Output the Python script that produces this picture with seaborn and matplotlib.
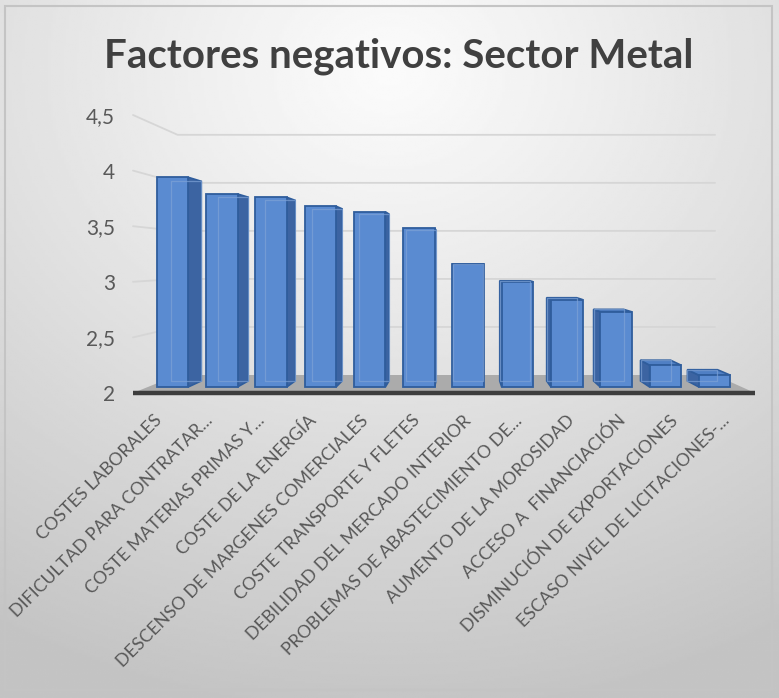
import numpy as np
import pandas as pd
import matplotlib
matplotlib.use("Agg")
import matplotlib.pyplot as plt
import matplotlib.transforms as mtransforms
from matplotlib.patches import Polygon, Rectangle
import seaborn as sns

# Data
categories = [
    "COSTES LABORALES",
    "DIFICULTAD PARA CONTRATAR...",
    "COSTE MATERIAS PRIMAS Y...",
    "COSTE DE LA ENERGÍA",
    "DESCENSO DE MARGENES COMERCIALES",
    "COSTE TRANSPORTE Y FLETES",
    "DEBILIDAD DEL MERCADO INTERIOR",
    "PROBLEMAS DE ABASTECIMIENTO DE...",
    "AUMENTO DE LA MOROSIDAD",
    "ACCESO A  FINANCIACIÓN",
    "DISMINUCIÓN DE EXPORTACIONES",
    "ESCASO NIVEL DE LICITACIONES-...",
]
values = [3.94, 3.79, 3.76, 3.68, 3.63, 3.48, 3.16, 3.00, 2.84, 2.73, 2.25, 2.16]
y_ticks = [2, 2.5, 3, 3.5, 4, 4.5]
y_labels = ["2", "2,5", "3", "3,5", "4", "4,5"]
title = "Factores negativos: Sector Metal"

sns.set_style("white")
plt.rcParams['font.family'] = ['Lato', 'DejaVu Sans']

W, H = 779, 698
fig = plt.figure(figsize=(W / 100, H / 100), dpi=100)

# background gradient + frame
bg = fig.add_axes([0, 0, 1, 1], zorder=-10)
yy, xx = np.mgrid[0:1:300j, 0:1:300j]
r = np.sqrt(((xx - 0.5) / 0.9) ** 2 + ((yy - 0.10) / 0.85) ** 2)
shade = np.clip(251 - 56 * (r / 1.1) ** 1.1, 196, 252)
bg.imshow(shade, cmap="gray", vmin=0, vmax=255, extent=[0, 1, 0, 1], origin="upper", aspect="auto")
bg.add_patch(Rectangle((5 / W, 8 / H), (W - 12) / W, (H - 14) / H, fill=False,
                       edgecolor="#c4c4c4", lw=1.5, transform=bg.transAxes))
bg.set_xlim(0, 1)
bg.set_ylim(0, 1)
bg.axis("off")

# plot area
ax = fig.add_axes([133 / W, 1 - 393 / H, (760 - 133) / W, (393 - 115) / H])
ax.patch.set_alpha(0)

df = pd.DataFrame({"factor": categories, "valor": values})
front = "#5a8bd1"
edge = "#2f5d9c"
sns.barplot(data=df, x="factor", y="valor", color=front, saturation=1, width=0.64,
            edgecolor=edge, linewidth=1.3, ax=ax, zorder=5)

x_lo, x_hi = -0.80, 11.92
ax.set_xlim(x_lo, x_hi)
ax.set_ylim(2, 4.5)

# pseudo 3D: one point perspective
vx, vy = 5.85, 3.19
depth = 0.048
floor_depth = 0.136
bar_depth = 0.045
base = 2.054


def back(px, py, f):
    return (px + f * (vx - px), py + f * (vy - py))


for p, v in zip(ax.patches, values):
    p.set_y(base)
    p.set_height(v - base)
    x0 = p.get_x()
    x1 = x0 + p.get_width()
    if x1 < vx:
        xs = x1
    elif x0 > vx:
        xs = x0
    else:
        xs = None
    if xs is not None:
        side = [(xs, base), (xs, v), back(xs, v, depth), back(xs, base, depth)]
        ax.add_patch(Polygon(side, closed=True, facecolor="#3c64a2", edgecolor=edge,
                             lw=1.2, zorder=4))
    if v < vy:
        top = [(x0, v), (x1, v), back(x1, v, depth), back(x0, v, depth)]
        ax.add_patch(Polygon(top, closed=True, facecolor="#4f7fc4", edgecolor=edge,
                             lw=1.2, zorder=4))
    # inner back edges seen through the glassy front
    b0 = back(x0, base, depth)
    b1 = back(x1, v, depth)
    ax.plot([b0[0], b0[0], b1[0], b1[0], b0[0]], [b0[1], b1[1], b1[1], b0[1], b0[1]],
            color="#7ea2d6", lw=0.9, alpha=0.7, zorder=6)

# floor
fx0, fx1 = -0.80, 11.82
floor = [(fx0, 2), (fx1, 2), back(fx1, 2, floor_depth), back(fx0, 2, floor_depth)]
ax.add_patch(Polygon(floor, closed=True, facecolor="#ababab", edgecolor="none",
                     zorder=1, clip_on=False))
ax.plot([fx0, fx1], [2, 2], color="#3d3d3d", lw=3.2, zorder=7, clip_on=False,
        solid_capstyle="butt")

# back wall gridlines
for t in y_ticks[1:]:
    bl = back(fx0, t, floor_depth)
    br = back(fx1, t, floor_depth)
    ax.plot([fx0, bl[0], br[0]], [t, bl[1], br[1]], color="#d6d6d6", lw=1.3,
            zorder=0, clip_on=False)

ax.grid(False)
sns.despine(ax=ax, left=True, bottom=True)
ax.set_xlabel("")
ax.set_ylabel("")
ax.set_yticks(y_ticks, y_labels)
ax.tick_params(axis="y", length=0, pad=13, labelsize=15, labelcolor="#595959")
ax.tick_params(axis="x", length=0, pad=18, labelsize=12.8, labelcolor="#595959")

# labels sit on the front edge of the floor, spread slightly wider than the bars
unit_px = ax.transData.transform((1, 0))[0] - ax.transData.transform((0, 0))[0]
for i, lab in enumerate(ax.get_xticklabels()):
    lab.set_rotation(45)
    lab.set_ha("right")
    lab.set_va("center")
    lab.set_rotation_mode("anchor")
    shift = (i - vx) * bar_depth / (1 - bar_depth) * unit_px
    lab.set_transform(lab.get_transform() +
                      mtransforms.ScaledTranslation(shift / 100, 0, fig.dpi_scale_trans))

fig.text(399 / W, 1 - 56 / H, title, ha="center", va="center", fontsize=29,
         fontweight="bold", color="#404040")

fig.savefig("out.png", dpi=100)
